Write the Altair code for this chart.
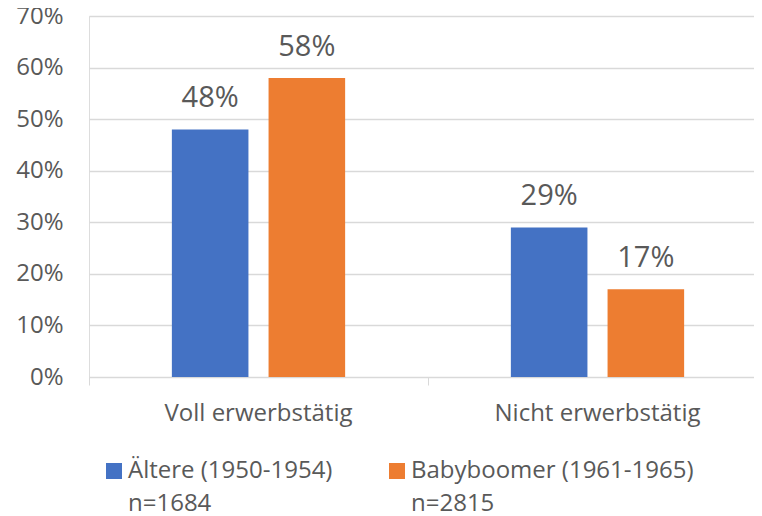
import altair as alt
import pandas as pd

categories = ["Voll erwerbstätig", "Nicht erwerbstätig"]
series = ["Ältere (1950-1954)|n=1684", "Babyboomer (1961-1965)|n=2815"]
aeltere = [48, 29]
babyboomer = [58, 17]
y_ticks = [0, 10, 20, 30, 40, 50, 60, 70]
colors = ["#4472C4", "#ED7D31"]

rows = []
for i, c in enumerate(categories):
    rows.append({"category": c, "series": series[0], "value": aeltere[i]})
    rows.append({"category": c, "series": series[1], "value": babyboomer[i]})
df = pd.DataFrame(rows)

FONT = "Open Sans"
TXT = "#595959"

x_enc = alt.X(
    "category:N",
    sort=categories,
    scale=alt.Scale(paddingInner=0, paddingOuter=0, range=[0, 678]),
    axis=alt.Axis(
        title=None, labelAngle=0, bandPosition=0, labelOffset=0,
        tickSize=8, tickColor="#D9D9D9", domainColor="#D9D9D9",
        labelFontSize=24, labelColor=TXT, labelFont=FONT, labelPadding=16,
        labelBaseline="top", labelLimit=400,
    ),
)
xoff = alt.XOffset("series:N", sort=series,
                   scale=alt.Scale(paddingInner=0.208, paddingOuter=0.857))
y_enc = alt.Y(
    "value:Q",
    scale=alt.Scale(domain=[0, 70]),
    axis=alt.Axis(
        title=None, values=y_ticks, labelExpr="datum.value + '%'",
        domain=False, ticks=False, gridColor="#D9D9D9", gridWidth=1.3,
        labelFontSize=24, labelColor=TXT, labelFont=FONT, labelPadding=26,
    ),
)
color_enc = alt.Color(
    "series:N", sort=series,
    scale=alt.Scale(domain=series, range=colors),
    legend=alt.Legend(
        orient="none", legendX=13, legendY=443, direction="horizontal",
        title=None, symbolType="square", symbolSize=256, symbolStrokeWidth=0,
        labelFontSize=24, labelColor=TXT, labelFont=FONT, labelOffset=2,
        labelExpr="split(datum.label, '|')", labelLimit=500, columnPadding=52,
        padding=0,
    ),
)

base = alt.Chart(df).encode(x=x_enc, xOffset=xoff, y=y_enc)
bars = base.mark_bar().encode(color=color_enc)
labels = base.mark_text(
    baseline="bottom", dy=-16, fontSize=29, font=FONT, color=TXT
).transform_calculate(lbl="datum.value + '%'").encode(text="lbl:N")

chart = (
    alt.layer(bars, labels)
    .properties(
        width=665, height=361,
        autosize=alt.AutoSizeParams(type="none"),
        padding={"left": 81, "top": 8, "right": 0, "bottom": 139},
    )
    .configure_view(stroke=None)
    .configure(background="white", style={"guide-label": {"lineHeight": 33}})
)
chart.save("out.html", embed_options={"renderer": "svg", "actions": False})
